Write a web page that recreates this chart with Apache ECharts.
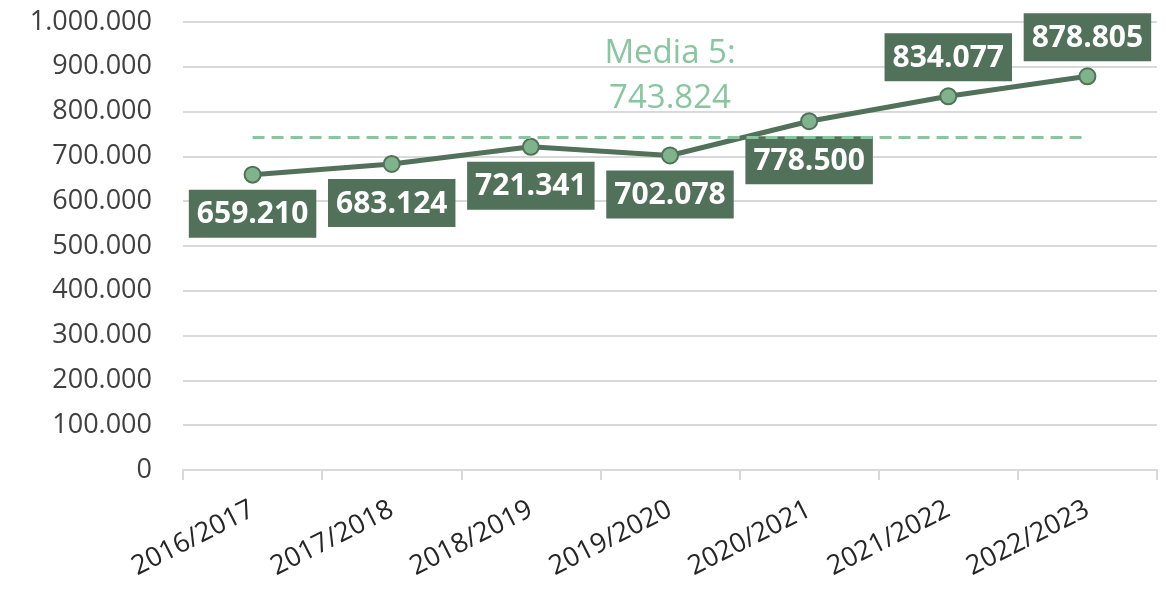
<!DOCTYPE html>
<html>
<head>
<meta charset="utf-8">
<script src="https://cdn.jsdelivr.net/npm/echarts@6/dist/echarts.min.js"></script>
<style>
  html, body { margin: 0; padding: 0; background: #fff; }
  #chart { width: 1166px; height: 590px; }
</style>
</head>
<body>
<div id="chart"></div>
<script>
const categories = ['2016/2017', '2017/2018', '2018/2019', '2019/2020', '2020/2021', '2021/2022', '2022/2023'];
const values = [659210, 683124, 721341, 702078, 778500, 834077, 878805];
const meanValue = 743824;
const meanLabel = 'Media 5:';
// indexes whose value label sits above the point
const labelsAbove = [5, 6];

const DARK = '#52715a';
const LIGHT = '#7fb38b';
const MEAN = '#88c6a0';
const FONT = '"Open Sans", "Noto Sans", sans-serif';

function fmt(v) {
  return String(v).replace(/\B(?=(\d{3})+(?!\d))/g, '.');
}

const chart = echarts.init(document.getElementById('chart'), null, { renderer: 'canvas' });

chart.setOption({
  animation: false,
  backgroundColor: '#fff',
  grid: { left: 183, right: 9, top: 22, bottom: 120 },
  xAxis: {
    type: 'category',
    data: categories,
    boundaryGap: true,
    axisLine: { lineStyle: { color: '#d9d9d9', width: 2 } },
    axisTick: { show: true, length: 10, lineStyle: { color: '#d9d9d9', width: 2 } },
    axisLabel: {
      rotate: 27,
      margin: 38,
      color: '#262626',
      fontFamily: FONT,
      fontSize: 27
    }
  },
  yAxis: {
    type: 'value',
    min: 0,
    max: 1000000,
    interval: 100000,
    axisLine: { show: false },
    axisTick: { show: false },
    splitLine: { lineStyle: { color: '#d9d9d9', width: 2 } },
    axisLabel: {
      margin: 31,
      color: '#404040',
      fontFamily: FONT,
      fontSize: 27,
      formatter: v => fmt(v)
    }
  },
  series: [{
    type: 'line',
    data: values.map((v, i) => ({
      value: v,
      label: { position: labelsAbove.includes(i) ? 'top' : 'bottom' }
    })),
    symbol: 'circle',
    symbolSize: 16,
    lineStyle: { color: DARK, width: 5 },
    itemStyle: { color: LIGHT, borderColor: DARK, borderWidth: 2 },
    label: {
      show: true,
      distance: 6,
      formatter: p => fmt(p.value),
      color: '#fff',
      fontFamily: FONT,
      fontWeight: 'bold',
      fontSize: 30,
      lineHeight: 32,
      backgroundColor: DARK,
      padding: [9, 8, 7, 8]
    },
    z: 3,
    markLine: {
      silent: true,
      symbol: ['none', 'none'],
      lineStyle: { color: MEAN, width: 3, type: [12, 7] },
      label: {
        show: true,
        position: 'insideMiddleTop',
        distance: 16,
        formatter: meanLabel + '\n' + fmt(meanValue),
        color: MEAN,
        fontFamily: FONT,
        fontSize: 33,
        lineHeight: 45
      },
      data: [[
        { coord: [0, meanValue] },
        { coord: [categories.length - 1, meanValue] }
      ]]
    }
  }]
});
</script>
</body>
</html>
